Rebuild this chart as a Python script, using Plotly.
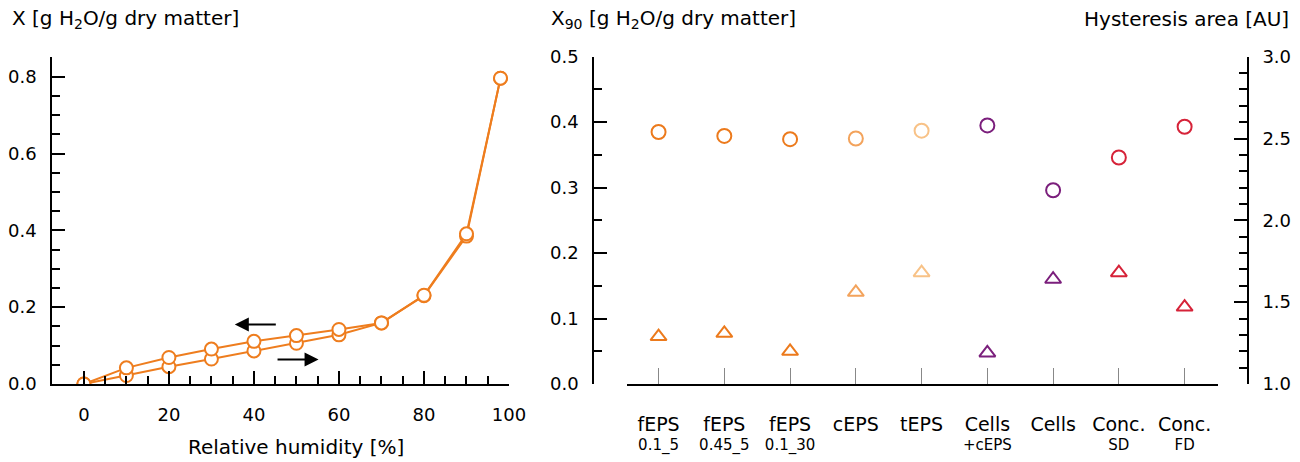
import plotly.graph_objects as go

# ---------------- data ----------------
rh = [0, 10, 20, 30, 40, 50, 60, 70, 80, 90, 98]
x_ads = [0.0, 0.022, 0.045, 0.065, 0.086, 0.106, 0.128, 0.159, 0.230, 0.385, 0.796]
rh_des = [98, 90, 80, 70, 60, 50, 40, 30, 20, 10, 0]
x_des = [0.796, 0.391, 0.231, 0.159, 0.142, 0.126, 0.111, 0.091, 0.069, 0.042, 0.0]

cat_main = ["fEPS", "fEPS", "fEPS", "cEPS", "tEPS", "Cells", "Cells", "Conc.", "Conc."]
cat_sub = ["0.1_5", "0.45_5", "0.1_30", "", "", "+cEPS", "", "SD", "FD"]
x90 = [0.385, 0.379, 0.374, 0.375, 0.387, 0.395, 0.296, 0.346, 0.393]
hyst = [1.29, 1.31, 1.20, 1.56, 1.68, 1.19, 1.64, 1.68, 1.47]
cat_colors = ["#EC7A1C", "#EC7A1C", "#EC7A1C", "#F3A35C", "#F8C287",
              "#7B1F7C", "#7B1F7C", "#D62339", "#D62339"]

left_ticks = [0, 20, 40, 60, 80, 100]
left_minor = [5, 10, 15, 25, 30, 35, 45, 50, 55, 65, 70, 75, 85, 90, 95]

ORANGE = "#EE7D1E"
FONT = "DejaVu Sans"
W, H = 1300, 462

def px(v):
    return v / W

def py(v):
    return (H - v) / H

fig = go.Figure()

# left panel
fig.add_trace(go.Scatter(x=rh, y=x_ads, mode="lines+markers", xaxis="x", yaxis="y",
                         line=dict(color=ORANGE, width=2),
                         marker=dict(symbol="circle", size=13, color="white",
                                     line=dict(color=ORANGE, width=2)),
                         showlegend=False))
fig.add_trace(go.Scatter(x=rh_des, y=x_des, mode="lines+markers", xaxis="x", yaxis="y",
                         line=dict(color=ORANGE, width=2),
                         marker=dict(symbol="circle", size=13, color="white",
                                     line=dict(color=ORANGE, width=2)),
                         showlegend=False))

# right panel
idx = list(range(len(cat_main)))
fig.add_trace(go.Scatter(x=idx, y=x90, mode="markers", xaxis="x2", yaxis="y3",
                         marker=dict(symbol="circle", size=14, color="white",
                                     line=dict(color=cat_colors, width=2)),
                         showlegend=False))
fig.add_trace(go.Scatter(x=idx, y=hyst, mode="markers", xaxis="x2", yaxis="y4",
                         marker=dict(symbol="triangle-up", size=14, color="white",
                                     line=dict(color=cat_colors, width=2)),
                         showlegend=False))

ticktext = []
for m, s in zip(cat_main, cat_sub):
    t = '<span style="font-size:19px">' + m + '</span>'
    if s:
        t += "<br>" + s
    ticktext.append(t)

ydom = [py(384), py(56.7)]
axis_common = dict(showline=True, linecolor="black", linewidth=1.6, ticks="inside",
                   tickcolor="black", tickwidth=1.6, showgrid=False, zeroline=False,
                   automargin=False,
                   tickfont=dict(family=FONT, size=18, color="black"))

fig.update_layout(
    template="none",
    width=W, height=H,
    margin=dict(l=0, r=0, t=0, b=0, pad=0, autoexpand=False),
    paper_bgcolor="white", plot_bgcolor="white",
    font=dict(family=FONT, size=18, color="black"),
    xaxis=dict(domain=[px(52), px(509)], range=[-7.5, 100], anchor="y",
               tickmode="array", tickvals=left_ticks, ticklen=13,
               ticklabelstandoff=14,
               minor=dict(tickmode="array", tickvals=left_minor, ticks="inside",
                          ticklen=8, tickcolor="black", tickwidth=1.6),
               **axis_common),
    yaxis=dict(domain=ydom, range=[0, 0.852], anchor="x",
               tickmode="linear", tick0=0, dtick=0.2, tickformat=".1f", ticklen=13,
               ticklabelstandoff=10,
               minor=dict(dtick=0.05, tick0=0, ticks="inside", ticklen=8,
                          tickcolor="black", tickwidth=1.6),
               **axis_common),
    xaxis2=dict(domain=[px(627), px(1217.5)], range=[-0.48, 8.5], anchor="y3",
                showline=True, linecolor="black", linewidth=1.6, ticks="inside",
                ticklen=16, tickcolor="#888888", tickwidth=1, showgrid=False,
                zeroline=False, automargin=False, tickmode="array", tickvals=idx,
                ticktext=ticktext, ticklabelstandoff=27,
                tickfont=dict(family=FONT, size=15, color="black")),
    yaxis3=dict(domain=ydom, range=[0, 0.5], anchor="free", position=px(593),
                tickmode="linear", tick0=0, dtick=0.1, tickformat=".1f", ticklen=13,
                ticklabelstandoff=10,
                minor=dict(dtick=0.05, tick0=0, ticks="inside", ticklen=8,
                           tickcolor="black", tickwidth=1.6),
                **axis_common),
    yaxis4=dict(range=[1, 3], overlaying="y3", side="right", anchor="free",
                position=px(1248), tickmode="linear", tick0=1, dtick=0.5,
                tickformat=".1f", ticklen=13, ticklabelstandoff=10,
                minor=dict(dtick=0.1, tick0=1, ticks="inside", ticklen=8,
                           tickcolor="black", tickwidth=1.6),
                **axis_common),
)

ann_font = dict(family=FONT, size=20, color="black")
fig.add_annotation(text="X [g H<sub>2</sub>O/g dry matter]", xref="paper", yref="paper",
                   x=px(10), y=py(19), xanchor="left", yanchor="middle",
                   showarrow=False, font=ann_font)
fig.add_annotation(text="X<sub>90</sub> [g H<sub>2</sub>O/g dry matter]", xref="paper",
                   yref="paper", x=px(549), y=py(19), xanchor="left", yanchor="middle",
                   showarrow=False, font=ann_font)
fig.add_annotation(text="Hysteresis area [AU]", xref="paper", yref="paper",
                   x=px(1291), y=py(19), xanchor="right", yanchor="middle",
                   showarrow=False, font=ann_font)
fig.add_annotation(text="Relative humidity [%]", xref="x", yref="paper",
                   x=50, y=py(447), xanchor="center", yanchor="middle",
                   showarrow=False, font=ann_font)

# hysteresis direction arrows
fig.add_annotation(x=35.5, y=0.155, ax=45.5, ay=0.155, xref="x", yref="y",
                   axref="x", ayref="y", text="", showarrow=True, arrowhead=2,
                   arrowsize=1.4, arrowwidth=2, arrowcolor="black")
fig.add_annotation(x=55.2, y=0.064, ax=45.2, ay=0.064, xref="x", yref="y",
                   axref="x", ayref="y", text="", showarrow=True, arrowhead=2,
                   arrowsize=1.4, arrowwidth=2, arrowcolor="black")

fig.write_html("out.html", config={"displayModeBar": False},
               post_script="document.body.style.margin='0';")
